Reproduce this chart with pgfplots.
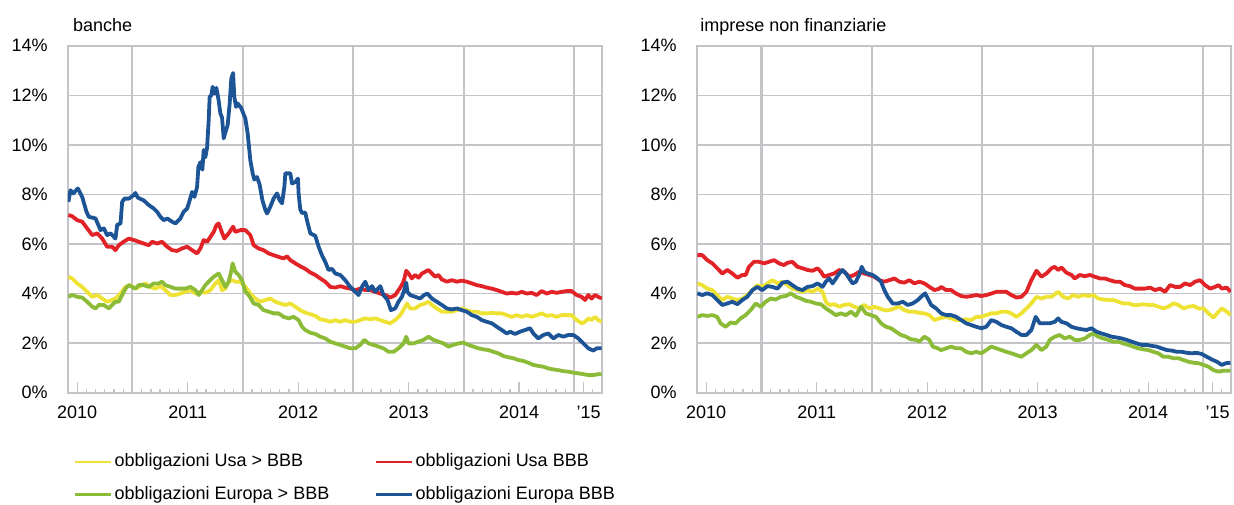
\documentclass[border=0pt]{standalone}
\usepackage{fontspec}
\setmainfont{Liberation Sans}
\usepackage{pgfplots}
\pgfplotsset{compat=1.18}
\definecolor{cyel}{RGB}{238,226,52}
\definecolor{cred}{RGB}{225,35,40}
\definecolor{cgrn}{RGB}{140,187,55}
\definecolor{cblu}{RGB}{28,84,150}
\definecolor{gridc}{RGB}{195,195,200}
\pgfplotsset{
 panel/.style={
  scale only axis, width=267pt, height=173.5pt,
  xmin=2010.4167, xmax=2015.25, ymin=0, ymax=14,
  ytick={0,2,...,14}, yticklabels={0\%,2\%,4\%,6\%,8\%,10\%,12\%,14\%},
  ymajorgrids, major grid style={draw=gridc, line width=0.65pt},
  xtick={2010.5,2011.5,2012.5,2013.5,2014.5,2015.0833},
  xticklabels={2010,2011,2012,2013,2014,\hspace{5pt}'15},
  minor xtick={2010.58333,2010.66667,2010.75,2010.83333,2010.91667,2011,2011.08333,2011.16667,2011.25,2011.33333,2011.41667,2011.58333,2011.66667,2011.75,2011.83333,2011.91667,2012,2012.08333,2012.16667,2012.25,2012.33333,2012.41667,2012.58333,2012.66667,2012.75,2012.83333,2012.91667,2013,2013.08333,2013.16667,2013.25,2013.33333,2013.41667,2013.58333,2013.66667,2013.75,2013.83333,2013.91667,2014,2014.08333,2014.16667,2014.25,2014.33333,2014.41667,2014.58333,2014.66667,2014.75,2014.83333,2014.91667,2015,2015.16667},
  extra x ticks={2011,2012,2013,2014,2015},
  extra x tick labels={},
  extra x tick style={grid=major, major grid style={draw=gridc, line width=1.05pt}, major tick length=0pt},
  tick align=inside, xtick pos=left,
  major tick length=5.5pt, minor tick length=2pt,
  x tick style={draw=gridc, line width=0.65pt},
  ytick style={draw=none},
  axis line style={draw=gridc, line width=0.8pt},
  xticklabel style={anchor=north, inner sep=0pt, yshift=-6.4pt},
  yticklabel style={anchor=east, inner sep=0pt, xshift=-10pt},
  every axis plot/.append style={line width=1.9pt, line join=round},
  every axis title/.style={at={(0,1)}, anchor=base west, inner sep=0pt, yshift=7.2pt},
  legend image code/.code={\draw[#1, line width=1.4pt] (0pt,0pt) -- (18pt,0pt);},
 }
}
\begin{document}
\fontsize{9}{10.8}\selectfont
\begin{tikzpicture}
\useasboundingbox (0pt,0pt) rectangle (617pt,-252pt);
\begin{axis}[panel, at={(34pt,-196.35pt)}, anchor=south west,
  title={banche}, title style={xshift=2.35pt},
  legend columns=2, legend cell align=left,
  legend style={at={(0.0095,-0.174)}, anchor=north west, draw=none, fill=none, inner sep=0pt,
    row sep=7.75pt,
    nodes={inner sep=0pt, text height=6.6pt, text depth=1.9pt},
    /tikz/every odd column/.append style={column sep=1.2pt},
    /tikz/every even column/.append style={column sep=22.6pt}}]
\addplot[cyel] coordinates {(2010.42,4.68)(2010.455,4.61)(2010.500,4.41)(2010.545,4.27)(2010.590,4.07)(2010.636,3.87)(2010.681,3.94)(2010.726,3.80)(2010.771,3.67)(2010.816,3.74)(2010.846,3.80)(2010.892,4.00)(2010.937,4.27)(2010.982,4.34)(2011.027,4.20)(2011.072,4.30)(2011.118,4.41)(2011.163,4.27)(2011.208,4.20)(2011.253,4.30)(2011.298,4.14)(2011.344,3.94)(2011.389,3.94)(2011.434,4.00)(2011.479,4.07)(2011.525,4.14)(2011.570,4.00)(2011.615,4.07)(2011.660,4.03)(2011.706,4.14)(2011.751,4.41)(2011.780,4.54)(2011.811,4.14)(2011.841,4.20)(2011.871,4.48)(2011.902,4.54)(2011.931,4.48)(2011.977,4.48)(2012.022,4.27)(2012.067,4.00)(2012.112,3.80)(2012.157,3.67)(2012.203,3.74)(2012.248,3.80)(2012.293,3.67)(2012.338,3.60)(2012.384,3.54)(2012.429,3.60)(2012.474,3.47)(2012.519,3.33)(2012.564,3.23)(2012.610,3.17)(2012.655,3.10)(2012.700,2.96)(2012.745,2.93)(2012.790,2.86)(2012.836,2.93)(2012.881,2.86)(2012.926,2.93)(2012.971,2.86)(2013.017,2.86)(2013.062,2.93)(2013.107,3.00)(2013.152,2.96)(2013.197,3.00)(2013.243,2.93)(2013.288,2.86)(2013.333,2.80)(2013.378,2.93)(2013.424,3.13)(2013.460,3.40)(2013.484,3.60)(2013.514,3.40)(2013.559,3.40)(2013.604,3.54)(2013.650,3.60)(2013.680,3.67)(2013.710,3.54)(2013.755,3.40)(2013.800,3.27)(2013.846,3.27)(2013.891,3.27)(2013.936,3.33)(2013.981,3.40)(2014.026,3.33)(2014.072,3.27)(2014.117,3.27)(2014.162,3.20)(2014.207,3.20)(2014.253,3.22)(2014.298,3.20)(2014.343,3.20)(2014.388,3.13)(2014.433,3.06)(2014.478,3.13)(2014.524,3.06)(2014.569,3.13)(2014.614,3.06)(2014.659,3.13)(2014.704,3.20)(2014.749,3.10)(2014.795,3.13)(2014.840,3.06)(2014.885,3.13)(2014.930,3.13)(2014.975,3.13)(2015.021,2.93)(2015.066,2.80)(2015.096,2.86)(2015.126,3.00)(2015.156,2.93)(2015.186,3.06)(2015.216,2.93)(2015.247,2.86)};
\addlegendentry{obbligazioni Usa > BBB}
\addplot[cred] coordinates {(2010.42,7.17)(2010.455,7.12)(2010.500,6.96)(2010.545,6.90)(2010.590,6.63)(2010.636,6.36)(2010.681,6.43)(2010.726,6.22)(2010.771,5.89)(2010.816,5.89)(2010.846,5.75)(2010.876,5.95)(2010.921,6.09)(2010.967,6.22)(2011.012,6.16)(2011.057,6.09)(2011.102,6.02)(2011.148,5.95)(2011.178,6.09)(2011.223,6.02)(2011.268,6.09)(2011.314,5.89)(2011.359,5.75)(2011.404,5.72)(2011.449,5.82)(2011.495,5.89)(2011.540,5.75)(2011.585,5.62)(2011.615,5.82)(2011.645,6.16)(2011.676,6.09)(2011.706,6.29)(2011.736,6.49)(2011.760,6.76)(2011.780,6.83)(2011.802,6.56)(2011.832,6.22)(2011.871,6.43)(2011.911,6.70)(2011.931,6.49)(2011.977,6.56)(2012.022,6.56)(2012.067,6.36)(2012.097,5.95)(2012.142,5.82)(2012.187,5.75)(2012.233,5.62)(2012.278,5.55)(2012.323,5.48)(2012.368,5.42)(2012.399,5.50)(2012.429,5.35)(2012.474,5.22)(2012.519,5.10)(2012.564,5.00)(2012.610,4.85)(2012.655,4.75)(2012.700,4.61)(2012.745,4.48)(2012.790,4.27)(2012.836,4.24)(2012.881,4.30)(2012.926,4.24)(2012.971,4.20)(2013.017,4.14)(2013.062,4.20)(2013.107,4.14)(2013.152,4.14)(2013.197,4.07)(2013.243,4.00)(2013.288,3.94)(2013.333,3.84)(2013.378,3.94)(2013.424,4.24)(2013.454,4.48)(2013.478,4.92)(2013.499,4.81)(2013.529,4.61)(2013.559,4.75)(2013.589,4.64)(2013.620,4.81)(2013.650,4.88)(2013.680,4.95)(2013.710,4.81)(2013.740,4.68)(2013.770,4.75)(2013.800,4.57)(2013.846,4.48)(2013.891,4.54)(2013.936,4.48)(2013.981,4.52)(2014.026,4.48)(2014.072,4.41)(2014.117,4.34)(2014.162,4.30)(2014.207,4.24)(2014.253,4.20)(2014.298,4.14)(2014.343,4.07)(2014.388,4.00)(2014.433,4.03)(2014.478,4.00)(2014.524,4.07)(2014.569,4.00)(2014.614,4.03)(2014.659,3.94)(2014.704,4.10)(2014.749,4.00)(2014.795,4.07)(2014.840,4.03)(2014.885,4.07)(2014.930,4.10)(2014.975,4.10)(2015.021,3.94)(2015.066,3.87)(2015.096,3.74)(2015.126,3.94)(2015.156,3.80)(2015.186,3.94)(2015.216,3.87)(2015.247,3.80)};
\addlegendentry{obbligazioni Usa BBB}
\addplot[cgrn] coordinates {(2010.42,3.87)(2010.455,3.94)(2010.500,3.87)(2010.545,3.84)(2010.590,3.67)(2010.636,3.47)(2010.666,3.40)(2010.695,3.54)(2010.741,3.54)(2010.786,3.40)(2010.816,3.54)(2010.846,3.67)(2010.876,3.67)(2010.907,3.94)(2010.937,4.20)(2010.967,4.34)(2010.997,4.27)(2011.027,4.20)(2011.057,4.34)(2011.102,4.34)(2011.148,4.27)(2011.193,4.41)(2011.238,4.41)(2011.268,4.48)(2011.298,4.34)(2011.344,4.27)(2011.389,4.20)(2011.434,4.20)(2011.479,4.20)(2011.525,4.27)(2011.570,4.14)(2011.600,3.94)(2011.630,4.14)(2011.660,4.34)(2011.690,4.48)(2011.736,4.68)(2011.780,4.81)(2011.811,4.54)(2011.841,4.27)(2011.871,4.48)(2011.893,4.88)(2011.907,5.22)(2011.931,4.88)(2011.961,4.75)(2011.992,4.54)(2012.022,4.07)(2012.052,3.94)(2012.097,3.60)(2012.142,3.54)(2012.187,3.33)(2012.233,3.27)(2012.278,3.20)(2012.323,3.20)(2012.368,3.06)(2012.414,3.00)(2012.459,3.06)(2012.504,2.93)(2012.535,2.66)(2012.564,2.53)(2012.610,2.42)(2012.655,2.37)(2012.700,2.26)(2012.745,2.19)(2012.790,2.06)(2012.836,1.99)(2012.881,1.93)(2012.926,1.86)(2012.971,1.79)(2013.017,1.79)(2013.062,1.93)(2013.098,2.13)(2013.137,1.99)(2013.182,1.93)(2013.228,1.86)(2013.272,1.79)(2013.318,1.65)(2013.363,1.65)(2013.408,1.79)(2013.454,1.99)(2013.478,2.26)(2013.499,1.99)(2013.544,1.99)(2013.589,2.06)(2013.634,2.13)(2013.680,2.26)(2013.725,2.13)(2013.770,2.06)(2013.815,1.99)(2013.860,1.86)(2013.906,1.93)(2013.951,1.99)(2013.996,2.02)(2014.041,1.93)(2014.086,1.86)(2014.132,1.79)(2014.177,1.75)(2014.222,1.72)(2014.267,1.65)(2014.312,1.59)(2014.358,1.48)(2014.403,1.43)(2014.448,1.39)(2014.493,1.32)(2014.538,1.28)(2014.583,1.21)(2014.629,1.12)(2014.674,1.08)(2014.719,1.05)(2014.764,0.98)(2014.810,0.94)(2014.855,0.91)(2014.900,0.87)(2014.945,0.85)(2014.990,0.81)(2015.036,0.78)(2015.081,0.75)(2015.126,0.71)(2015.171,0.71)(2015.216,0.75)(2015.247,0.74)};
\addlegendentry{obbligazioni Europa > BBB}
\addplot[cblu] coordinates {(2010.42,7.70)(2010.439,8.17)(2010.464,8.04)(2010.506,8.24)(2010.545,7.90)(2010.584,7.30)(2010.605,7.10)(2010.666,7.03)(2010.711,6.56)(2010.741,6.63)(2010.771,6.36)(2010.801,6.43)(2010.846,6.22)(2010.862,6.77)(2010.892,6.83)(2010.907,7.70)(2010.928,7.83)(2010.967,7.83)(2011.012,7.97)(2011.027,8.06)(2011.048,7.87)(2011.102,7.76)(2011.148,7.57)(2011.193,7.43)(2011.223,7.30)(2011.253,7.10)(2011.283,6.96)(2011.314,7.03)(2011.359,6.90)(2011.389,6.83)(2011.434,7.03)(2011.464,7.30)(2011.495,7.43)(2011.518,7.76)(2011.540,8.10)(2011.561,7.90)(2011.585,8.30)(2011.597,9.11)(2011.615,9.30)(2011.633,9.00)(2011.645,9.79)(2011.660,9.50)(2011.676,9.90)(2011.690,11.00)(2011.699,11.94)(2011.714,12.00)(2011.726,12.34)(2011.742,12.07)(2011.760,12.30)(2011.780,11.80)(2011.796,11.27)(2011.811,11.10)(2011.826,10.26)(2011.841,10.50)(2011.862,10.80)(2011.880,11.67)(2011.895,12.68)(2011.911,12.90)(2011.922,11.94)(2011.938,11.53)(2011.952,11.67)(2011.983,11.50)(2012.022,11.06)(2012.043,10.46)(2012.067,9.38)(2012.088,8.85)(2012.103,8.60)(2012.128,8.70)(2012.151,8.40)(2012.176,7.77)(2012.203,7.37)(2012.218,7.23)(2012.248,7.50)(2012.278,7.84)(2012.309,8.04)(2012.332,7.77)(2012.354,7.64)(2012.375,8.30)(2012.384,8.85)(2012.429,8.85)(2012.444,8.44)(2012.474,8.50)(2012.498,8.64)(2012.504,8.04)(2012.519,7.40)(2012.535,7.25)(2012.564,7.27)(2012.580,6.95)(2012.610,6.43)(2012.655,6.33)(2012.685,5.89)(2012.715,5.55)(2012.745,5.28)(2012.775,4.95)(2012.806,5.00)(2012.836,4.81)(2012.881,4.75)(2012.926,4.54)(2012.971,4.27)(2013.017,4.07)(2013.046,3.94)(2013.077,4.27)(2013.107,4.48)(2013.137,4.14)(2013.168,4.30)(2013.197,4.07)(2013.243,4.30)(2013.272,3.94)(2013.309,3.74)(2013.339,3.33)(2013.378,3.40)(2013.408,3.67)(2013.439,3.87)(2013.460,4.14)(2013.478,4.44)(2013.489,4.07)(2013.514,3.94)(2013.559,3.87)(2013.604,3.80)(2013.640,3.94)(2013.670,4.00)(2013.710,3.80)(2013.755,3.67)(2013.800,3.54)(2013.846,3.40)(2013.891,3.36)(2013.936,3.40)(2013.981,3.33)(2014.026,3.27)(2014.072,3.13)(2014.117,3.06)(2014.162,2.93)(2014.207,2.86)(2014.253,2.80)(2014.298,2.66)(2014.343,2.53)(2014.388,2.39)(2014.418,2.46)(2014.463,2.37)(2014.508,2.46)(2014.554,2.53)(2014.599,2.60)(2014.629,2.39)(2014.674,2.19)(2014.719,2.33)(2014.764,2.39)(2014.810,2.19)(2014.855,2.33)(2014.900,2.26)(2014.945,2.33)(2014.990,2.33)(2015.036,2.19)(2015.081,1.99)(2015.126,1.79)(2015.171,1.70)(2015.202,1.79)(2015.247,1.79)};
\addlegendentry{obbligazioni Europa BBB}
\end{axis}
\begin{axis}[panel, at={(348.5pt,-196.35pt)}, anchor=south west,
  title={imprese non finanziarie}, title style={xshift=1.5pt}]
\addplot[cyel] coordinates {(2010.42,4.41)(2010.464,4.34)(2010.509,4.20)(2010.555,4.14)(2010.600,3.94)(2010.646,3.74)(2010.691,3.87)(2010.736,3.80)(2010.782,3.74)(2010.827,3.80)(2010.872,3.94)(2010.918,4.14)(2010.963,4.34)(2011.008,4.27)(2011.054,4.41)(2011.099,4.54)(2011.145,4.41)(2011.190,4.48)(2011.235,4.34)(2011.280,4.20)(2011.326,4.14)(2011.371,4.07)(2011.417,4.14)(2011.462,4.07)(2011.508,4.20)(2011.553,4.07)(2011.583,3.67)(2011.613,3.54)(2011.658,3.57)(2011.704,3.47)(2011.749,3.54)(2011.794,3.57)(2011.840,3.47)(2011.885,3.40)(2011.930,3.54)(2011.976,3.40)(2012.021,3.47)(2012.067,3.40)(2012.112,3.33)(2012.157,3.33)(2012.203,3.40)(2012.248,3.47)(2012.293,3.33)(2012.339,3.27)(2012.384,3.27)(2012.429,3.22)(2012.475,3.20)(2012.520,3.13)(2012.566,2.93)(2012.611,3.00)(2012.672,3.06)(2012.717,3.00)(2012.762,2.93)(2012.808,2.93)(2012.853,2.96)(2012.898,2.93)(2012.944,3.06)(2012.989,3.06)(2013.035,3.13)(2013.080,3.20)(2013.126,3.20)(2013.171,3.27)(2013.216,3.27)(2013.262,3.20)(2013.307,3.06)(2013.353,3.20)(2013.398,3.40)(2013.443,3.60)(2013.489,3.87)(2013.534,3.80)(2013.579,3.87)(2013.625,3.87)(2013.685,4.07)(2013.731,3.87)(2013.776,3.80)(2013.821,3.94)(2013.867,3.87)(2013.912,3.94)(2013.958,3.90)(2014.003,3.94)(2014.048,3.80)(2014.093,3.76)(2014.139,3.74)(2014.184,3.74)(2014.229,3.67)(2014.275,3.60)(2014.320,3.60)(2014.366,3.54)(2014.411,3.54)(2014.456,3.57)(2014.502,3.54)(2014.547,3.54)(2014.593,3.47)(2014.638,3.40)(2014.683,3.47)(2014.729,3.60)(2014.774,3.54)(2014.819,3.40)(2014.865,3.47)(2014.910,3.50)(2014.956,3.40)(2015.001,3.40)(2015.046,3.20)(2015.092,3.03)(2015.137,3.27)(2015.167,3.40)(2015.212,3.27)(2015.245,3.13)};
\addplot[cred] coordinates {(2010.42,5.55)(2010.464,5.55)(2010.509,5.35)(2010.555,5.22)(2010.600,5.02)(2010.646,4.81)(2010.691,4.95)(2010.736,4.81)(2010.782,4.64)(2010.827,4.75)(2010.857,4.75)(2010.887,5.08)(2010.932,5.28)(2010.978,5.28)(2011.023,5.22)(2011.068,5.28)(2011.114,5.35)(2011.159,5.22)(2011.204,5.15)(2011.235,5.24)(2011.280,5.28)(2011.326,5.08)(2011.371,5.02)(2011.417,4.95)(2011.462,4.92)(2011.508,5.02)(2011.538,4.88)(2011.567,4.68)(2011.613,4.75)(2011.658,4.81)(2011.704,4.95)(2011.749,4.88)(2011.794,4.68)(2011.840,4.75)(2011.885,4.88)(2011.930,4.81)(2011.976,4.75)(2012.021,4.68)(2012.067,4.54)(2012.112,4.48)(2012.157,4.54)(2012.203,4.61)(2012.248,4.48)(2012.293,4.44)(2012.339,4.54)(2012.384,4.41)(2012.429,4.48)(2012.475,4.41)(2012.520,4.27)(2012.566,4.14)(2012.611,4.20)(2012.626,4.27)(2012.672,4.14)(2012.717,4.14)(2012.762,4.00)(2012.808,3.90)(2012.853,3.87)(2012.898,3.90)(2012.944,3.94)(2012.989,3.90)(2013.035,3.94)(2013.080,4.00)(2013.126,4.07)(2013.171,4.07)(2013.216,4.07)(2013.262,3.94)(2013.307,3.84)(2013.353,3.87)(2013.398,4.07)(2013.443,4.54)(2013.489,4.92)(2013.534,4.68)(2013.579,4.81)(2013.625,5.02)(2013.655,5.08)(2013.685,4.95)(2013.715,5.05)(2013.761,4.84)(2013.806,4.75)(2013.836,4.61)(2013.881,4.75)(2013.927,4.70)(2013.972,4.75)(2014.017,4.68)(2014.063,4.61)(2014.108,4.61)(2014.153,4.54)(2014.199,4.48)(2014.244,4.48)(2014.290,4.34)(2014.335,4.30)(2014.380,4.20)(2014.426,4.20)(2014.471,4.20)(2014.517,4.24)(2014.562,4.14)(2014.607,4.20)(2014.653,4.07)(2014.698,4.34)(2014.744,4.27)(2014.789,4.27)(2014.834,4.41)(2014.880,4.34)(2014.925,4.48)(2014.970,4.54)(2015.016,4.34)(2015.061,4.20)(2015.106,4.27)(2015.137,4.34)(2015.167,4.20)(2015.212,4.24)(2015.245,4.07)};
\addplot[cgrn] coordinates {(2010.42,3.06)(2010.464,3.13)(2010.509,3.10)(2010.555,3.13)(2010.600,3.06)(2010.630,2.80)(2010.675,2.66)(2010.721,2.83)(2010.766,2.80)(2010.812,3.00)(2010.857,3.13)(2010.902,3.33)(2010.948,3.60)(2010.993,3.47)(2011.038,3.67)(2011.084,3.80)(2011.129,3.76)(2011.175,3.87)(2011.220,3.90)(2011.265,4.01)(2011.311,3.87)(2011.356,3.80)(2011.401,3.71)(2011.447,3.67)(2011.492,3.60)(2011.538,3.57)(2011.583,3.40)(2011.628,3.27)(2011.674,3.13)(2011.719,3.20)(2011.764,3.13)(2011.810,3.27)(2011.855,3.10)(2011.900,3.47)(2011.946,3.20)(2011.991,3.13)(2012.036,3.06)(2012.082,2.80)(2012.127,2.66)(2012.173,2.60)(2012.218,2.46)(2012.263,2.33)(2012.309,2.26)(2012.354,2.15)(2012.399,2.13)(2012.429,2.06)(2012.475,2.26)(2012.520,2.13)(2012.551,1.86)(2012.596,1.79)(2012.626,1.72)(2012.672,1.79)(2012.717,1.86)(2012.762,1.79)(2012.808,1.79)(2012.853,1.65)(2012.898,1.59)(2012.944,1.65)(2012.989,1.59)(2013.035,1.72)(2013.080,1.86)(2013.126,1.79)(2013.171,1.72)(2013.216,1.65)(2013.262,1.59)(2013.307,1.52)(2013.353,1.45)(2013.398,1.59)(2013.443,1.72)(2013.489,1.93)(2013.534,1.72)(2013.579,1.86)(2013.609,2.13)(2013.655,2.26)(2013.700,2.33)(2013.745,2.19)(2013.791,2.26)(2013.836,2.13)(2013.881,2.13)(2013.927,2.19)(2013.972,2.33)(2014.003,2.39)(2014.048,2.26)(2014.093,2.19)(2014.139,2.13)(2014.184,2.06)(2014.229,2.06)(2014.275,1.99)(2014.320,1.93)(2014.366,1.86)(2014.411,1.79)(2014.456,1.75)(2014.502,1.72)(2014.547,1.65)(2014.593,1.59)(2014.638,1.45)(2014.683,1.45)(2014.729,1.39)(2014.774,1.39)(2014.819,1.32)(2014.865,1.25)(2014.910,1.21)(2014.956,1.19)(2015.001,1.12)(2015.046,1.05)(2015.092,0.91)(2015.137,0.85)(2015.182,0.89)(2015.245,0.89)};
\addplot[cblu] coordinates {(2010.42,4.01)(2010.464,3.94)(2010.509,4.01)(2010.555,3.94)(2010.600,3.74)(2010.646,3.54)(2010.691,3.60)(2010.736,3.67)(2010.782,3.57)(2010.827,3.74)(2010.872,3.87)(2010.918,4.14)(2010.963,4.27)(2011.008,4.14)(2011.054,4.30)(2011.099,4.27)(2011.145,4.20)(2011.190,4.44)(2011.235,4.48)(2011.280,4.34)(2011.326,4.20)(2011.371,4.14)(2011.417,4.27)(2011.462,4.30)(2011.508,4.41)(2011.553,4.27)(2011.583,4.48)(2011.613,4.61)(2011.644,4.41)(2011.674,4.61)(2011.704,4.81)(2011.734,4.95)(2011.764,4.81)(2011.794,4.61)(2011.825,4.41)(2011.855,4.48)(2011.885,4.75)(2011.907,5.08)(2011.930,4.88)(2011.961,4.81)(2012.007,4.75)(2012.052,4.61)(2012.082,4.48)(2012.112,4.14)(2012.143,3.87)(2012.188,3.60)(2012.233,3.60)(2012.279,3.67)(2012.324,3.54)(2012.369,3.60)(2012.415,3.74)(2012.445,3.87)(2012.481,4.01)(2012.506,3.80)(2012.536,3.54)(2012.581,3.40)(2012.626,3.20)(2012.672,3.13)(2012.717,3.13)(2012.762,3.06)(2012.808,2.93)(2012.853,2.80)(2012.898,2.73)(2012.944,2.66)(2012.989,2.60)(2013.035,2.66)(2013.080,2.93)(2013.126,2.86)(2013.171,2.73)(2013.216,2.66)(2013.262,2.60)(2013.307,2.46)(2013.353,2.33)(2013.398,2.33)(2013.443,2.53)(2013.482,3.06)(2013.519,2.80)(2013.564,2.80)(2013.609,2.80)(2013.655,2.86)(2013.685,3.00)(2013.715,2.86)(2013.761,2.80)(2013.806,2.66)(2013.851,2.60)(2013.897,2.56)(2013.942,2.53)(2013.987,2.60)(2014.033,2.46)(2014.078,2.39)(2014.123,2.33)(2014.169,2.26)(2014.214,2.23)(2014.260,2.19)(2014.305,2.13)(2014.350,2.06)(2014.396,1.99)(2014.441,1.93)(2014.487,1.93)(2014.532,1.89)(2014.577,1.86)(2014.623,1.79)(2014.668,1.72)(2014.713,1.70)(2014.759,1.65)(2014.804,1.65)(2014.850,1.61)(2014.895,1.59)(2014.940,1.61)(2014.986,1.56)(2015.031,1.45)(2015.076,1.34)(2015.122,1.25)(2015.167,1.12)(2015.203,1.19)(2015.245,1.21)};
\end{axis}
\end{tikzpicture}
\end{document}
